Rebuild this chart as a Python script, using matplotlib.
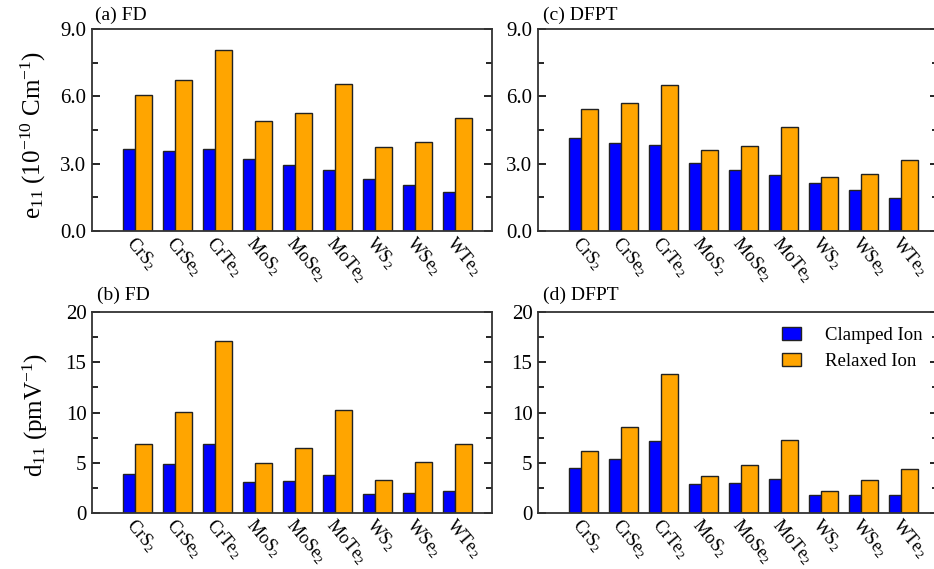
import matplotlib
matplotlib.use("Agg")
import matplotlib.pyplot as plt
import numpy as np
from matplotlib.ticker import MultipleLocator, FormatStrFormatter

plt.rcParams['font.family'] = ['Liberation Serif', 'DejaVu Serif']
plt.rcParams['mathtext.fontset'] = 'custom'
plt.rcParams['mathtext.rm'] = 'Liberation Serif'
plt.rcParams['mathtext.it'] = 'Liberation Serif'
plt.rcParams['mathtext.default'] = 'rm'

materials = ["CrS$_2$", "CrSe$_2$", "CrTe$_2$", "MoS$_2$", "MoSe$_2$",
             "MoTe$_2$", "WS$_2$", "WSe$_2$", "WTe$_2$"]

e11_fd_clamped = [3.64, 3.58, 3.67, 3.19, 2.92, 2.74, 2.32, 2.06, 1.73]
e11_fd_relaxed = [6.04, 6.74, 8.05, 4.92, 5.25, 6.53, 3.76, 3.96, 5.02]
e11_dfpt_clamped = [4.13, 3.93, 3.85, 3.04, 2.71, 2.49, 2.15, 1.82, 1.46]
e11_dfpt_relaxed = [5.44, 5.72, 6.51, 3.61, 3.80, 4.63, 2.41, 2.55, 3.17]
d11_fd_clamped = [3.91, 4.91, 6.87, 3.05, 3.22, 3.78, 1.92, 1.99, 2.16]
d11_fd_relaxed = [6.90, 10.02, 17.15, 5.01, 6.50, 10.22, 3.32, 5.07, 6.90]
d11_dfpt_clamped = [4.44, 5.37, 7.20, 2.89, 3.02, 3.42, 1.79, 1.76, 1.76]
d11_dfpt_relaxed = [6.17, 8.52, 13.83, 3.65, 4.74, 7.26, 2.16, 3.25, 4.41]

panel_titles = ["(a) FD", "(b) FD", "(c) DFPT", "(d) DFPT"]
series_labels = ["Clamped Ion", "Relaxed Ion"]

W, H = 934, 569
fig = plt.figure(figsize=(W / 100, H / 100), dpi=100)

def rect(l, t, r, b):
    return [l / W, 1 - b / H, (r - l) / W, (b - t) / H]

axes = {
    'a': fig.add_axes(rect(92, 29, 492, 231)),
    'b': fig.add_axes(rect(92, 312, 492, 513)),
    'c': fig.add_axes(rect(538, 29, 938, 231)),
    'd': fig.add_axes(rect(538, 312, 938, 513)),
}

data = {
    'a': (e11_fd_clamped, e11_fd_relaxed),
    'c': (e11_dfpt_clamped, e11_dfpt_relaxed),
    'b': (d11_fd_clamped, d11_fd_relaxed),
    'd': (d11_dfpt_clamped, d11_dfpt_relaxed),
}

x = np.arange(len(materials))
wb, wo = 0.31, 0.433
for key, ax in axes.items():
    cl, rl = data[key]
    ax.bar(x - wb, cl, width=wb, align='edge', color='#0000FF', edgecolor='#222222',
           linewidth=1.0, label=series_labels[0])
    ax.bar(x, rl, width=wo, align='edge', color='#FFA500', edgecolor='#222222',
           linewidth=1.0, label=series_labels[1])
    ax.set_xlim(-1.077, 8.923)
    if key in ('a', 'c'):
        ax.set_ylim(0, 9)
        ax.yaxis.set_major_locator(MultipleLocator(3))
        ax.yaxis.set_minor_locator(MultipleLocator(1.5))
        ax.yaxis.set_major_formatter(FormatStrFormatter('%.1f'))
    else:
        ax.set_ylim(0, 20)
        ax.yaxis.set_major_locator(MultipleLocator(5))
        ax.yaxis.set_minor_locator(MultipleLocator(2.5))
        ax.yaxis.set_major_formatter(FormatStrFormatter('%d'))
    ax.tick_params(axis='y', which='both', direction='in', left=True, right=True,
                   labelsize=15, width=1.2, pad=4)
    ax.tick_params(axis='y', which='major', length=6)
    ax.tick_params(axis='y', which='minor', length=4)
    ax.set_xticks(x + 0.05)
    ax.set_xticklabels(materials, rotation=-50, ha='left', va='top',
                       rotation_mode='anchor', fontsize=13)
    ax.tick_params(axis='x', which='both', length=0, pad=2)
    for s in ax.spines.values():
        s.set_linewidth(1.3)
        s.set_color('#333333')

fig.text(95 / W, 1 - 15 / H, panel_titles[0], fontsize=14, ha='left', va='center')
fig.text(97 / W, 1 - 295 / H, panel_titles[1], fontsize=14, ha='left', va='center')
fig.text(543 / W, 1 - 15 / H, panel_titles[2], fontsize=14, ha='left', va='center')
fig.text(543 / W, 1 - 295 / H, panel_titles[3], fontsize=14, ha='left', va='center')

fig.text(33 / W, 1 - 135 / H, r"e$_{11}$ (10$^{-10}$ Cm$^{-1}$)", rotation=90,
         fontsize=18, ha='center', va='center')
fig.text(35 / W, 1 - 415 / H, r"d$_{11}$ (pmV$^{-1}$)", rotation=90,
         fontsize=18, ha='center', va='center')

axes['d'].legend(loc='upper left', bbox_to_anchor=(0.61, 0.925), frameon=False,
                 fontsize=13.5, handlelength=1.0, handleheight=0.7,
                 handletextpad=1.3, labelspacing=0.45, borderpad=0, borderaxespad=0)

fig.savefig("out.png", dpi=100)
